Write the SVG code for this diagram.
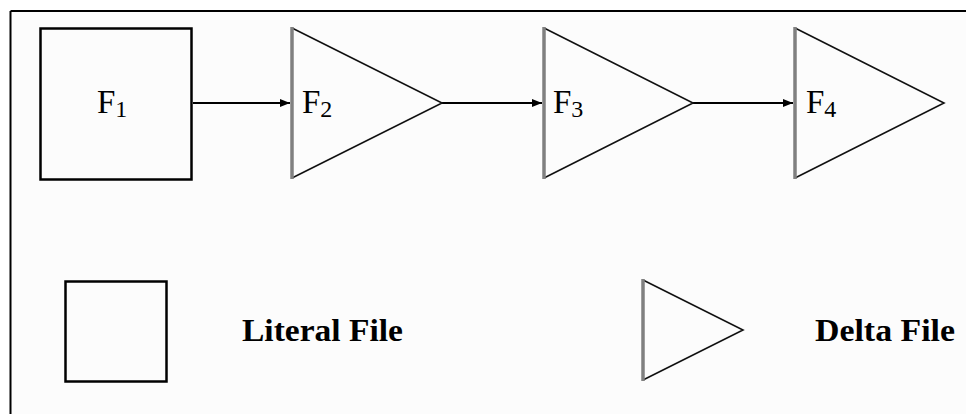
<svg xmlns="http://www.w3.org/2000/svg" width="966" height="414" viewBox="0 0 966 414">
<style>
.box{fill:none;stroke:#000;stroke-width:2.5}
.tri{fill:none;stroke:#111;stroke-width:1.6;stroke-linejoin:miter}
.base{stroke:#808080;stroke-width:3.5}
.lbl{font-family:"Liberation Serif","Times New Roman",serif;font-size:33px;fill:#000}
.sub{font-size:24px}
.leg{font-family:"Liberation Serif","Times New Roman",serif;font-size:32px;font-weight:bold;fill:#000}
.conn{stroke:#000;stroke-width:1.8;fill:none}
</style>
<defs>
<marker id="ah" markerWidth="10" markerHeight="8" refX="10" refY="4" orient="auto" markerUnits="userSpaceOnUse">
<path d="M0,0 L10,4 L0,8 Z" fill="#000"/>
</marker>
</defs>
<rect x="0" y="0" width="966" height="414" fill="#fff"/>
<rect x="11" y="12" width="955" height="402" fill="#fcfcfc"/>
<g id="frame">
<line x1="10.5" y1="11" x2="966" y2="11" stroke="#000" stroke-width="2"/>
<line x1="10.5" y1="11" x2="10.5" y2="414" stroke="#000" stroke-width="2"/>
</g>
<g id="connectors">
<line class="conn" x1="193" y1="103" x2="290" y2="103" marker-end="url(#ah)"/>
<line class="conn" x1="442" y1="103" x2="542" y2="103" marker-end="url(#ah)"/>
<line class="conn" x1="693" y1="103" x2="793" y2="103" marker-end="url(#ah)"/>
</g>
<g id="F1">
<rect class="box" x="40.5" y="28.5" width="151" height="151"/>
<text class="lbl" x="97" y="113">F<tspan class="sub" dy="4">1</tspan></text>
</g>
<g id="F2">
<path class="tri" d="M292,28 L442,103 L292,178"/>
<line class="base" x1="292" y1="27" x2="292" y2="179"/>
<text class="lbl" x="302" y="113">F<tspan class="sub" dy="4">2</tspan></text>
</g>
<g id="F3">
<path class="tri" d="M544,28 L693,103 L544,178"/>
<line class="base" x1="544" y1="27" x2="544" y2="179"/>
<text class="lbl" x="553" y="113">F<tspan class="sub" dy="4">3</tspan></text>
</g>
<g id="F4">
<path class="tri" d="M795,28 L944,103 L795,178"/>
<line class="base" x1="795" y1="27" x2="795" y2="179"/>
<text class="lbl" x="806" y="113">F<tspan class="sub" dy="4">4</tspan></text>
</g>
<g id="legend-literal">
<rect class="box" x="65.5" y="281.5" width="101" height="100"/>
<text class="leg" x="242" y="341" textLength="161" lengthAdjust="spacingAndGlyphs">Literal File</text>
</g>
<g id="legend-delta">
<path class="tri" d="M643,280 L743,330 L643,380"/>
<line class="base" x1="643" y1="279" x2="643" y2="381"/>
<text class="leg" x="815" y="341" textLength="140" lengthAdjust="spacingAndGlyphs">Delta File</text>
</g>
</svg>
